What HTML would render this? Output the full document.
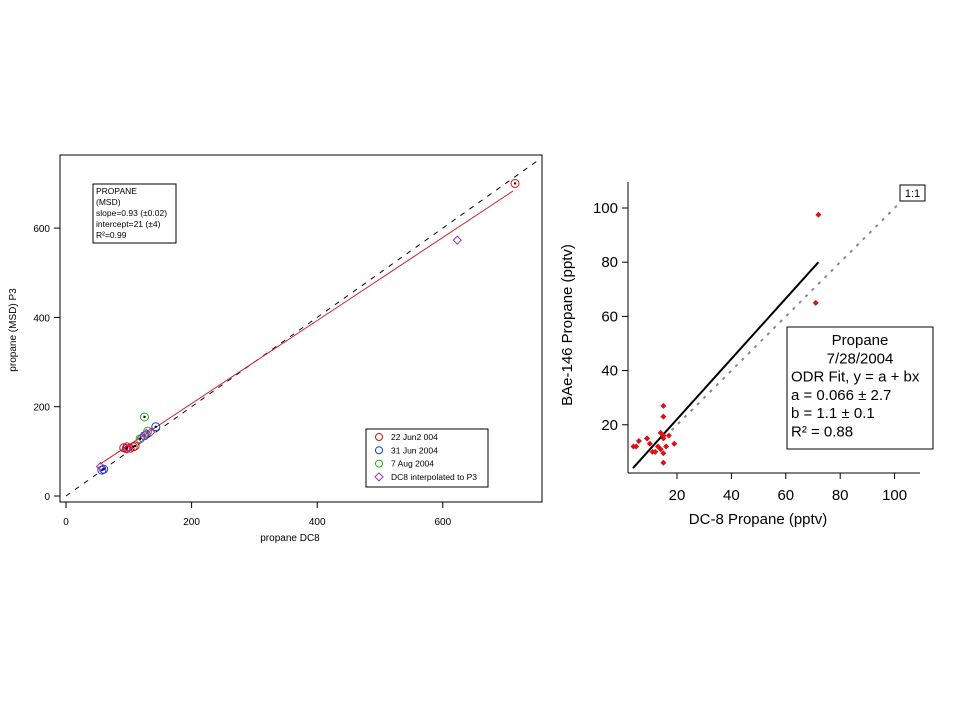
<!DOCTYPE html>
<html><head><meta charset="utf-8"><style>
html,body{margin:0;padding:0;background:#fff;}
svg{display:block;font-family:"Liberation Sans",Arial,sans-serif;}
</style></head><body>
<svg id="s" width="960" height="720" viewBox="0 0 960 720">
<g id="left"></g>
<g id="right"></g>
</svg>
<script>
// ---- Left chart data ----
const lxTicks = [0, 200, 400, 600];
const lyTicks = [0, 200, 400, 600];
const redX = [715, 92, 97, 102, 107, 110, 96];
const redY = [700, 108, 110, 107, 110, 112, 106];
const blueX = [57, 60, 143, 125];
const blueY = [58, 60, 155, 135];
const greenX = [125, 118, 130];
const greenY = [177, 128, 145];
const purpleX = [623, 55, 128, 135, 120, 97];
const purpleY = [573, 66, 140, 143, 130, 105];
const fitA = 21, fitB = 0.93;
const fitRange = [54, 712];
const oneToOne = [0, 750];
// ---- Right chart data ----
const rxTicks = [20, 40, 60, 80, 100];
const ryTicks = [20, 40, 60, 80, 100];
const rPtsX = [4, 5, 6, 9, 10, 11, 13, 14, 14, 15, 15, 15, 15, 15, 15, 16, 17, 19, 72, 71, 9, 12];
const rPtsY = [12, 12, 14, 15, 13, 10, 12, 11, 17, 16, 15, 27, 23, 9.5, 6, 12, 16, 13, 97.5, 65, 15, 10];
const rFit = [[3.8, 4], [72, 80]];
const rOne = [18, 101];

const NS = "http://www.w3.org/2000/svg";
function mk(parent, tag, attrs, text) {
  const e = document.createElementNS(NS, tag);
  for (const k in attrs) e.setAttribute(k, attrs[k]);
  if (text !== undefined) e.textContent = text;
  parent.appendChild(e);
  return e;
}
// LEFT
const L = document.getElementById('left');
const lx = v => 66 + v * 0.628;
const ly = v => 496 - v * 0.4465;
let e;
e = mk(L, 'rect', {x:60, y:155, width:482, height:347, fill:'none', stroke:'#000', 'stroke-width':1});


lxTicks.forEach(t => {
  e = mk(L, 'line', {x1:lx(t), x2:lx(t), y1:502, y2:508, stroke:'#000'});
  
  
  e = mk(L, 'text', {x:lx(t), y:525, 'font-size':10, 'text-anchor':'middle'}, t);
  
  
});
lyTicks.forEach(t => {
  e = mk(L, 'line', {x1:54, x2:60, y1:ly(t), y2:ly(t), stroke:'#000'});
  
  
  e = mk(L, 'text', {x:50, y:ly(t)+4, 'font-size':10, 'text-anchor':'end'}, t);
  
  
});
e = mk(L, 'text', {x:290, y:541, 'font-size':10, 'text-anchor':'middle'}, 'propane DC8');


e = mk(L, 'text', {x:0, y:0, 'font-size':10, 'text-anchor':'middle', transform:'translate(16,330) rotate(-90)'}, 'propane (MSD) P3');


e = mk(L, 'line', {x1:lx(oneToOne[0]), y1:ly(oneToOne[0]), x2:lx(oneToOne[1]), y2:ly(oneToOne[1]), stroke:'#000', 'stroke-dasharray':'5,6'});


e = mk(L, 'line', {x1:lx(fitRange[0]), y1:ly(fitA+fitB*fitRange[0]), x2:lx(fitRange[1]), y2:ly(fitA+fitB*fitRange[1]), stroke:'#d0202a', 'stroke-width':1});


function circles(xs, ys, col, name) {
  xs.forEach((x, i) => {
    e = mk(L, 'circle', {cx:lx(x), cy:ly(ys[i]), r:4, fill:'none', stroke:col});
    
    
    e = mk(L, 'circle', {cx:lx(x), cy:ly(ys[i]), r:1.2, fill:'#000'});
    
    
  });
}
circles(redX, redY, '#e0101a', 'point-22jun');
circles(blueX, blueY, '#1040d0', 'point-31jun');
circles(greenX, greenY, '#20b020', 'point-7aug');
purpleX.forEach((x, i) => {
  const cx = lx(x), cy = ly(purpleY[i]);
  e = mk(L, 'polygon', {points:`${cx},${cy-4} ${cx+4},${cy} ${cx},${cy+4} ${cx-4},${cy}`, fill:'none', stroke:'#a030b0'});
  
  
});
// stats box
e = mk(L, 'rect', {x:93, y:184, width:83, height:59, fill:'#fff', stroke:'#000'});


['PROPANE','(MSD)','slope=0.93 (±0.02)','intercept=21 (±4)','R²=0.99'].forEach((t, i) => {
  e = mk(L, 'text', {x:96, y:194 + i*11, 'font-size':8.5}, t);
  
  
});
// legend
e = mk(L, 'rect', {x:366, y:429, width:122, height:58, fill:'#fff', stroke:'#000'});


const legT = ['22 Jun2 004','31 Jun 2004','7 Aug 2004','DC8 interpolated to P3'];
const legC = ['#e0101a','#1040d0','#20b020','#a030b0'];
legT.forEach((t, i) => {
  const y = 437 + i*13.3;
  if (i < 3) e = mk(L, 'circle', {cx:379, cy:y, r:3.5, fill:'none', stroke:legC[i]});
  else e = mk(L, 'polygon', {points:`379,${y-4} 383,${y} 379,${y+4} 375,${y}`, fill:'none', stroke:legC[i]});
  
  
  e = mk(L, 'text', {x:391, y:y+3, 'font-size':8.5}, t);
  
  
});
// RIGHT
const R = document.getElementById('right');
const rx = v => 622.6 + v * 2.72;
const ry = v => 479 - v * 2.71;
e = mk(R, 'line', {x1:628, y1:182, x2:628, y2:473, stroke:'#000'});


e = mk(R, 'line', {x1:628, y1:473, x2:920, y2:473, stroke:'#000'});


rxTicks.forEach(t => {
  e = mk(R, 'line', {x1:rx(t), x2:rx(t), y1:473, y2:479, stroke:'#000'});
  
  
  e = mk(R, 'text', {x:rx(t), y:500, 'font-size':15, 'text-anchor':'middle'}, t);
  
  
});
ryTicks.forEach(t => {
  e = mk(R, 'line', {x1:622, x2:628, y1:ry(t), y2:ry(t), stroke:'#000'});
  
  
  e = mk(R, 'text', {x:618, y:ry(t)+5, 'font-size':15, 'text-anchor':'end'}, t);
  
  
});
e = mk(R, 'text', {x:758, y:524, 'font-size':15, 'text-anchor':'middle'}, 'DC-8 Propane (pptv)');


e = mk(R, 'text', {x:0, y:0, 'font-size':15, 'text-anchor':'middle', transform:'translate(572,325) rotate(-90)'}, 'BAe-146 Propane (pptv)');


e = mk(R, 'line', {x1:rx(rOne[0]), y1:ry(rOne[0]), x2:rx(rOne[1]), y2:ry(rOne[1]), stroke:'#888', 'stroke-width':2, 'stroke-dasharray':'3,6'});


e = mk(R, 'line', {x1:rx(rFit[0][0]), y1:ry(rFit[0][1]), x2:rx(rFit[1][0]), y2:ry(rFit[1][1]), stroke:'#000', 'stroke-width':2});


rPtsX.forEach((x, i) => {
  const cx = rx(x), cy = ry(rPtsY[i]);
  e = mk(R, 'polygon', {points:`${cx},${cy-3} ${cx+3},${cy} ${cx},${cy+3} ${cx-3},${cy}`, fill:'#e01010'});
  
  
});
e = mk(R, 'rect', {x:787, y:327, width:146, height:122, fill:'#fff', stroke:'#000'});


[['Propane',860,'middle'],['7/28/2004',860,'middle'],['ODR Fit, y = a  + bx',791,'start'],['a = 0.066 ± 2.7',791,'start'],['b = 1.1 ± 0.1',791,'start'],['R² = 0.88',791,'start']].forEach((r, i) => {
  e = mk(R, 'text', {x:r[1], y:345 + i*18.3, 'font-size':15, 'text-anchor':r[2]}, r[0]);
  
  
});
e = mk(R, 'rect', {x:900, y:185, width:25, height:16, fill:'#fff', stroke:'#000'});


e = mk(R, 'text', {x:912.5, y:197, 'font-size':11, 'text-anchor':'middle'}, '1:1');


</script>
</body></html>
